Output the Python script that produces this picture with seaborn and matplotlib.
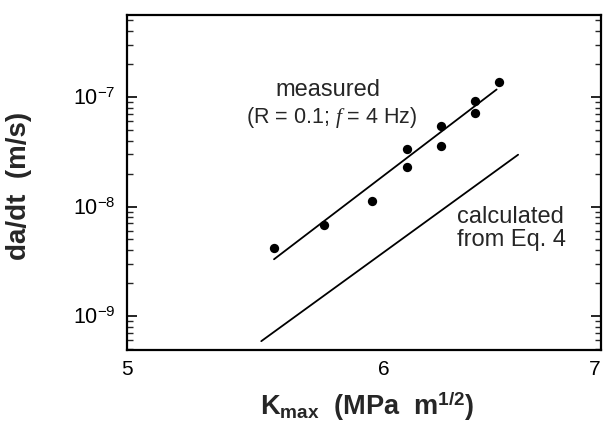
import numpy as np
import pandas as pd
import matplotlib
matplotlib.use("Agg")
import matplotlib.pyplot as plt
import matplotlib.ticker as mticker
import matplotlib.transforms as mtransforms
import seaborn as sns

# ---- data ----
k_measured = [5.55, 5.75, 5.95, 6.10, 6.10, 6.25, 6.25, 6.40, 6.40, 6.51]
dadt_measured = [4.2e-9, 6.8e-9, 1.13e-8, 3.35e-8, 2.3e-8, 5.4e-8, 3.6e-8, 9.2e-8, 7.2e-8, 1.37e-7]

k_fit = [5.55, 6.50]
dadt_fit = [3.3e-9, 1.17e-7]

k_calc = [5.50, 6.60]
dadt_calc = [5.9e-10, 2.97e-8]

x_ticks = [5, 6, 7]
x_tick_labels = ["5", "6", "7"]
y_ticks = [1e-9, 1e-8, 1e-7]
y_tick_labels = [r"$10^{-9}$", r"$10^{-8}$", r"$10^{-7}$"]

sns.set_theme(style="ticks")
plt.rcParams["font.family"] = ["Liberation Sans", "DejaVu Sans"]
plt.rcParams["mathtext.fontset"] = "custom"
plt.rcParams["mathtext.rm"] = "Liberation Sans"
plt.rcParams["mathtext.bf"] = "Liberation Sans:bold"
plt.rcParams["mathtext.it"] = "Liberation Serif:italic"

fig = plt.figure(figsize=(6.03, 4.24), dpi=100)
ax = fig.add_axes([127 / 603, 1 - 350 / 424, 474 / 603, 335 / 424])

df_pts = pd.DataFrame({"K": k_measured, "dadt": dadt_measured})
df_fit = pd.DataFrame({"K": k_fit, "dadt": dadt_fit})
df_calc = pd.DataFrame({"K": k_calc, "dadt": dadt_calc})

sns.lineplot(data=df_fit, x="K", y="dadt", ax=ax, color="black", linewidth=1.3, estimator=None)
sns.lineplot(data=df_calc, x="K", y="dadt", ax=ax, color="black", linewidth=1.3, estimator=None)
sns.scatterplot(data=df_pts, x="K", y="dadt", ax=ax, color="black", s=45, edgecolor="black", linewidth=0, zorder=5)

ax.set_xscale("log")
ax.set_yscale("log")
ax.set_xlim(5, 7)
ax.set_ylim(4.9e-10, 5.6e-7)

ax.xaxis.set_major_locator(mticker.FixedLocator(x_ticks))
ax.xaxis.set_major_formatter(mticker.FixedFormatter(x_tick_labels))
ax.xaxis.set_minor_locator(mticker.NullLocator())
ax.tick_params(axis="x", which="both", length=0, pad=7, labelsize=15, colors="black")

ax.yaxis.set_major_locator(mticker.FixedLocator(y_ticks))
ax.yaxis.set_major_formatter(mticker.FixedFormatter(y_tick_labels))
ax.yaxis.set_minor_locator(mticker.LogLocator(base=10, subs=np.arange(2, 10), numticks=20))
ax.yaxis.set_minor_formatter(mticker.NullFormatter())
ax.tick_params(axis="y", which="major", direction="in", length=7, width=1.2,
               left=True, right=True, labelsize=15.5, pad=8, colors="black")
ax.tick_params(axis="y", which="minor", direction="in", length=4, width=1.0,
               left=True, right=True)

for sp in ax.spines.values():
    sp.set_linewidth(1.6)
    sp.set_color("black")

ax.set_xlabel(r"K$_{\mathbf{max}}$  (MPa  m$^{\mathbf{1/2}}$)", fontsize=19.5, fontweight="bold")
ax.set_ylabel("da/dt  (m/s)", fontsize=20, fontweight="bold")
ax.xaxis.set_label_coords(0.506, -0.12)
ax.yaxis.set_label_coords(-0.2, 0.49)

ax.text(0.424, 0.776, "measured", transform=ax.transAxes, fontsize=17,
        ha="center", va="center")
ax.text(0.432, 0.693, r"(R = 0.1; $f$ = 4 Hz)", transform=ax.transAxes, fontsize=15.5,
        ha="center", va="center")
ax.text(0.696, 0.397, "calculated", transform=ax.transAxes, fontsize=17,
        ha="left", va="center")
ax.text(0.696, 0.328, "from Eq. 4", transform=ax.transAxes, fontsize=17,
        ha="left", va="center")

# keep the last x tick label ("7") inside the image
fig.canvas.draw()
last = ax.get_xticklabels()[-1]
last.set_transform(last.get_transform() + mtransforms.ScaledTranslation(-6 / 100, 0, fig.dpi_scale_trans))

fig.savefig("out.png", dpi=100, facecolor="white")
